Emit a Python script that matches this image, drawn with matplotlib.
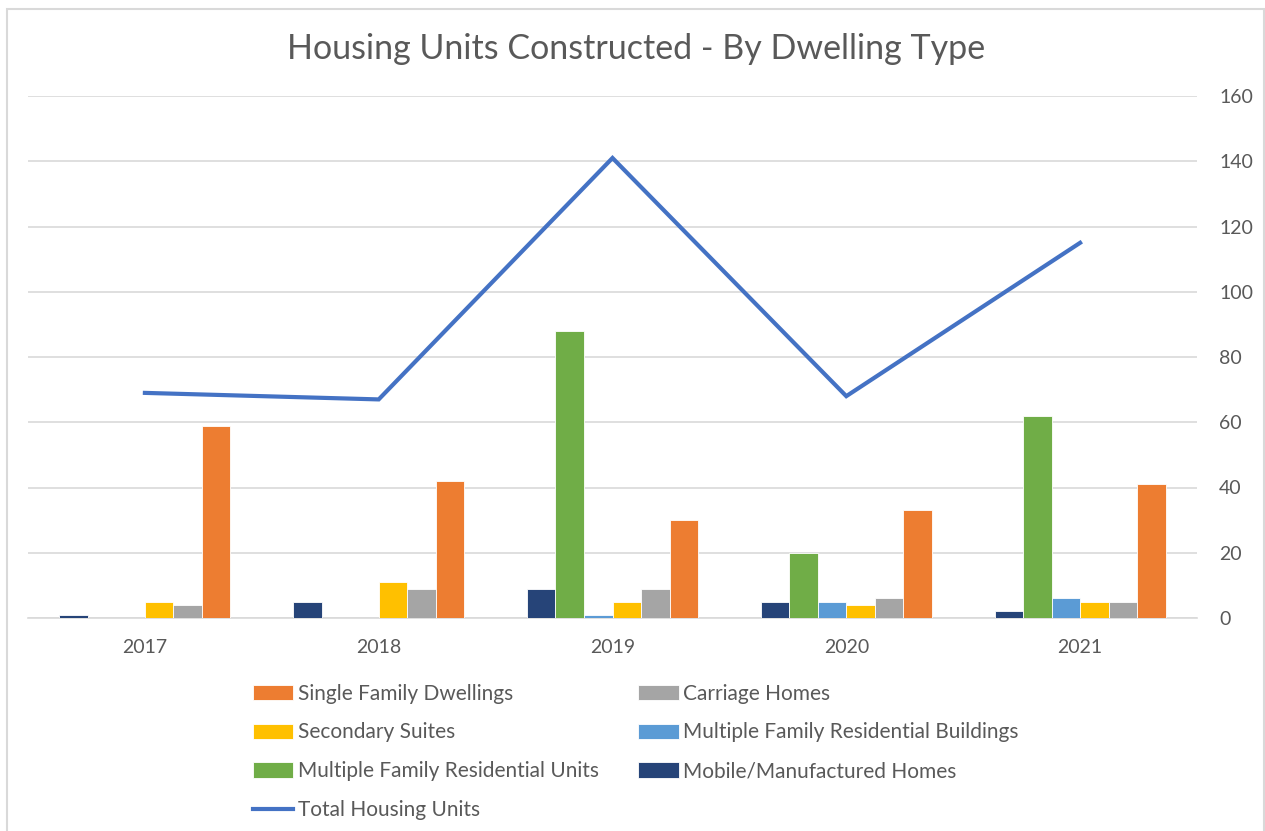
import numpy as np
import matplotlib
matplotlib.use("Agg")
import matplotlib.pyplot as plt
from matplotlib.patches import Rectangle

# === Daten ===
years = ["2017", "2018", "2019", "2020", "2021"]

mobile = [1, 5, 9, 5, 2]
multi_units = [0, 0, 88, 20, 62]
multi_buildings = [0, 0, 1, 5, 6]
secondary = [5, 11, 5, 4, 5]
carriage = [4, 9, 9, 6, 5]
single = [59, 42, 30, 33, 41]
total = [69, 67, 141, 68, 115]

# Reihenfolge der Balken von links nach rechts
bar_series = [
    ("Mobile/Manufactured Homes", mobile, "#264478"),
    ("Multiple Family Residential Units", multi_units, "#70AD47"),
    ("Multiple Family Residential Buildings", multi_buildings, "#5B9BD5"),
    ("Secondary Suites", secondary, "#FFC000"),
    ("Carriage Homes", carriage, "#A5A5A5"),
    ("Single Family Dwellings", single, "#ED7D31"),
]

text_color = "#595959"
grid_color = "#D9D9D9"
plt.rcParams['font.family'] = ['Lato', 'DejaVu Sans']

# === Plot ===
fig = plt.figure(figsize=(12.65, 8.31), dpi=100)
ax = fig.add_axes([28 / 1265, 1 - 618 / 831, (1197 - 28) / 1265, (618 - 96) / 831])

x = np.arange(len(years))
width = 0.122
handles = {}
for i, (name, vals, color) in enumerate(bar_series):
    b = ax.bar(x + (i - 2.5) * width, vals, width, color=color,
               edgecolor="white", linewidth=0.6, label=name, zorder=3)
    handles[name] = b

line, = ax.plot(x, total, color="#4472C4", linewidth=3, label="Total Housing Units",
                solid_joinstyle="miter", zorder=4)

ax.set_xlim(-0.5, len(years) - 0.5)
ax.set_ylim(0, 160)
ax.set_yticks(range(0, 161, 20))
ax.set_xticks(x)
ax.set_xticklabels(years)
ax.yaxis.tick_right()
ax.tick_params(axis="y", length=0, pad=16, labelsize=14, labelcolor=text_color)
ax.tick_params(axis="x", length=0, pad=15, labelsize=14, labelcolor=text_color)
ax.grid(axis="y", color=grid_color, linewidth=1.2, zorder=0)
for s in ["top", "right", "left"]:
    ax.spines[s].set_visible(False)
ax.spines["bottom"].set_color(grid_color)
ax.spines["bottom"].set_linewidth(1.2)

fig.text(636 / 1265, 1 - 49 / 831, "Housing Units Constructed - By Dwelling Type",
         ha="center", va="center", fontsize=24.5, color=text_color)

# Legende: spaltenweise gefuellt
order = ["Single Family Dwellings", "Secondary Suites",
         "Multiple Family Residential Units"]
leg_handles = [handles[n] for n in order] + [line] + \
    [handles[n] for n in ["Carriage Homes", "Multiple Family Residential Buildings",
                          "Mobile/Manufactured Homes"]]
leg_labels = order + ["Total Housing Units", "Carriage Homes",
                      "Multiple Family Residential Buildings", "Mobile/Manufactured Homes"]
leg = fig.legend(leg_handles, leg_labels, ncol=2, loc="upper left",
                 bbox_to_anchor=(234 / 1265, 1 - 665 / 831), frameon=False,
                 fontsize=15, labelcolor=text_color, handlelength=1.95,
                 handleheight=0.75, handletextpad=0.2, columnspacing=1.9,
                 labelspacing=0.9)

# Rahmen um die Grafik
fig.patches.append(Rectangle((7 / 1265, -0.02), (1264 - 7) / 1265, 1.02 - 9 / 831,
                             transform=fig.transFigure, fill=False,
                             edgecolor=grid_color, linewidth=1.5))

plt.savefig("out.png", dpi=100)
plt.close()
